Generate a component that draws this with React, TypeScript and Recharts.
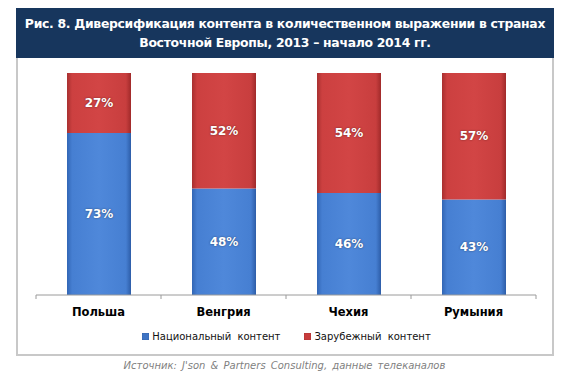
import React from "react";
import { BarChart, Bar, XAxis, YAxis, LabelList, Legend } from "recharts";

const countries = ["Польша", "Венгрия", "Чехия", "Румыния"];
const nationalContent = [73, 48, 46, 43];
const foreignContent = [27, 52, 54, 57];
const seriesNames = ["Национальный контент", "Зарубежный контент"];
const titleLines = [
  "Рис. 8. Диверсификация контента в количественном выражении в странах",
  "Восточной Европы, 2013 – начало 2014 гг.",
];
const sourceText = "Источник: J'son & Partners Consulting, данные телеканалов";

const data = countries.map((c, i) => ({
  name: c,
  nat: nationalContent[i],
  foreign: foreignContent[i],
}));

const FONT = "'DejaVu Sans', Verdana, sans-serif";
const HALF_BAND = 62.5;

const LegendContent = () => (
  <div
    style={{
      display: "flex",
      justifyContent: "center",
      gap: 24,
      fontFamily: FONT,
      fontSize: 10,
      color: "#111",
      wordSpacing: 3,
      paddingLeft: 8,
    }}
  >
    {[
      { name: seriesNames[0], col: "#3f74c4" },
      { name: seriesNames[1], col: "#c83c3c" },
    ].map((e) => (
      <span key={e.name} style={{ display: "flex", alignItems: "center" }}>
        <span
          style={{
            display: "inline-block",
            width: 7,
            height: 7,
            background: e.col,
            marginRight: 3,
            boxShadow: "inset 0 0 1px rgba(0,0,0,0.5)",
          }}
        />
        {e.name}
      </span>
    ))}
  </div>
);

const renderLabel = (props: any) => {
  const { x, y, width, height, value } = props;
  return (
    <text
      x={x + width / 2}
      y={y + height / 2}
      textAnchor="middle"
      dominantBaseline="central"
      fill="#fff"
      fontFamily={FONT}
      fontWeight="bold"
      fontSize={12}
      style={{ textShadow: "0 0 2px rgba(0,0,0,0.5)" }}
    >
      {value}%
    </text>
  );
};

const CategoryTick = (props: any) => {
  const { x, y, payload, index, visibleTicksCount } = props;
  const last = index === visibleTicksCount - 1;
  return (
    <g>
      <line x1={x - HALF_BAND} y1={y} x2={x - HALF_BAND} y2={y + 4} stroke="#9a9a9a" />
      {last && (
        <line x1={x + HALF_BAND} y1={y} x2={x + HALF_BAND} y2={y + 4} stroke="#9a9a9a" />
      )}
      <text
        x={x}
        y={y + 17}
        textAnchor="middle"
        dominantBaseline="central"
        fill="#000"
        fontFamily={FONT}
        fontWeight="bold"
        fontSize={11.5}
      >
        {payload.value}
      </text>
    </g>
  );
};

export default function App() {
  return (
    <div
      style={{
        position: "absolute",
        left: 0,
        top: 0,
        width: 565,
        height: 375,
        background: "#fff",
      }}
    >
      <div
        style={{
          position: "absolute",
          left: 16,
          top: 8,
          width: 538,
          height: 50,
          background: "#17365d",
          color: "#fff",
          fontFamily: FONT,
          fontWeight: "bold",
          fontSize: 12.4,
          textAlign: "center",
          lineHeight: "19px",
          paddingTop: 6,
          boxSizing: "border-box",
          letterSpacing: -0.3,
          whiteSpace: "nowrap",
        }}
      >
        <div>{titleLines[0]}</div>
        <div>{titleLines[1]}</div>
      </div>
      <div
        style={{
          position: "absolute",
          left: 16,
          top: 58,
          width: 538,
          height: 298,
          borderLeft: "2px solid #c8c8c8",
          borderRight: "2px solid #c8c8c8",
          borderBottom: "2px solid #c8c8c8",
          boxSizing: "border-box",
        }}
      />
      <div style={{ position: "absolute", left: 0, top: 0 }}>
        <BarChart
          width={565}
          height={375}
          data={data}
          margin={{ top: 73, right: 29, left: 36, bottom: 39 }}
          barSize={64}
        >
          <defs>
            <linearGradient id="gB" x1="0" y1="0" x2="1" y2="0">
              <stop offset="0" stopColor="#3266b5" />
              <stop offset="0.08" stopColor="#467fd2" />
              <stop offset="0.5" stopColor="#4f88da" />
              <stop offset="0.92" stopColor="#467fd2" />
              <stop offset="1" stopColor="#2d5da8" />
            </linearGradient>
            <linearGradient id="gR" x1="0" y1="0" x2="1" y2="0">
              <stop offset="0" stopColor="#a83030" />
              <stop offset="0.08" stopColor="#cc4040" />
              <stop offset="0.5" stopColor="#d24545" />
              <stop offset="0.92" stopColor="#c83e3e" />
              <stop offset="1" stopColor="#a02a2a" />
            </linearGradient>
          </defs>
          <XAxis
            dataKey="name"
            axisLine={{ stroke: "#9a9a9a" }}
            tickLine={false}
            tickSize={0}
            tickMargin={0}
            height={30}
            tick={<CategoryTick />}
            interval={0}
          />
          <YAxis hide domain={[0, 100]} />
          <Legend
            content={<LegendContent />}
            wrapperStyle={{ position: "absolute", top: 331, left: 0, width: 565 }}
          />
          <Bar
            dataKey="nat"
            stackId="s"
            name={seriesNames[0]}
            fill="url(#gB)"
            isAnimationActive={false}
          >
            <LabelList dataKey="nat" content={renderLabel} />
          </Bar>
          <Bar
            dataKey="foreign"
            stackId="s"
            name={seriesNames[1]}
            fill="url(#gR)"
            isAnimationActive={false}
          >
            <LabelList dataKey="foreign" content={renderLabel} />
          </Bar>
        </BarChart>
      </div>
      <div
        style={{
          position: "absolute",
          left: 0,
          top: 360,
          width: 565,
          textAlign: "center",
          fontFamily: FONT,
          fontStyle: "italic",
          fontSize: 10,
          color: "#7f7f7f",
          wordSpacing: 2,
          paddingLeft: 2,
        }}
      >
        {sourceText}
      </div>
    </div>
  );
}
